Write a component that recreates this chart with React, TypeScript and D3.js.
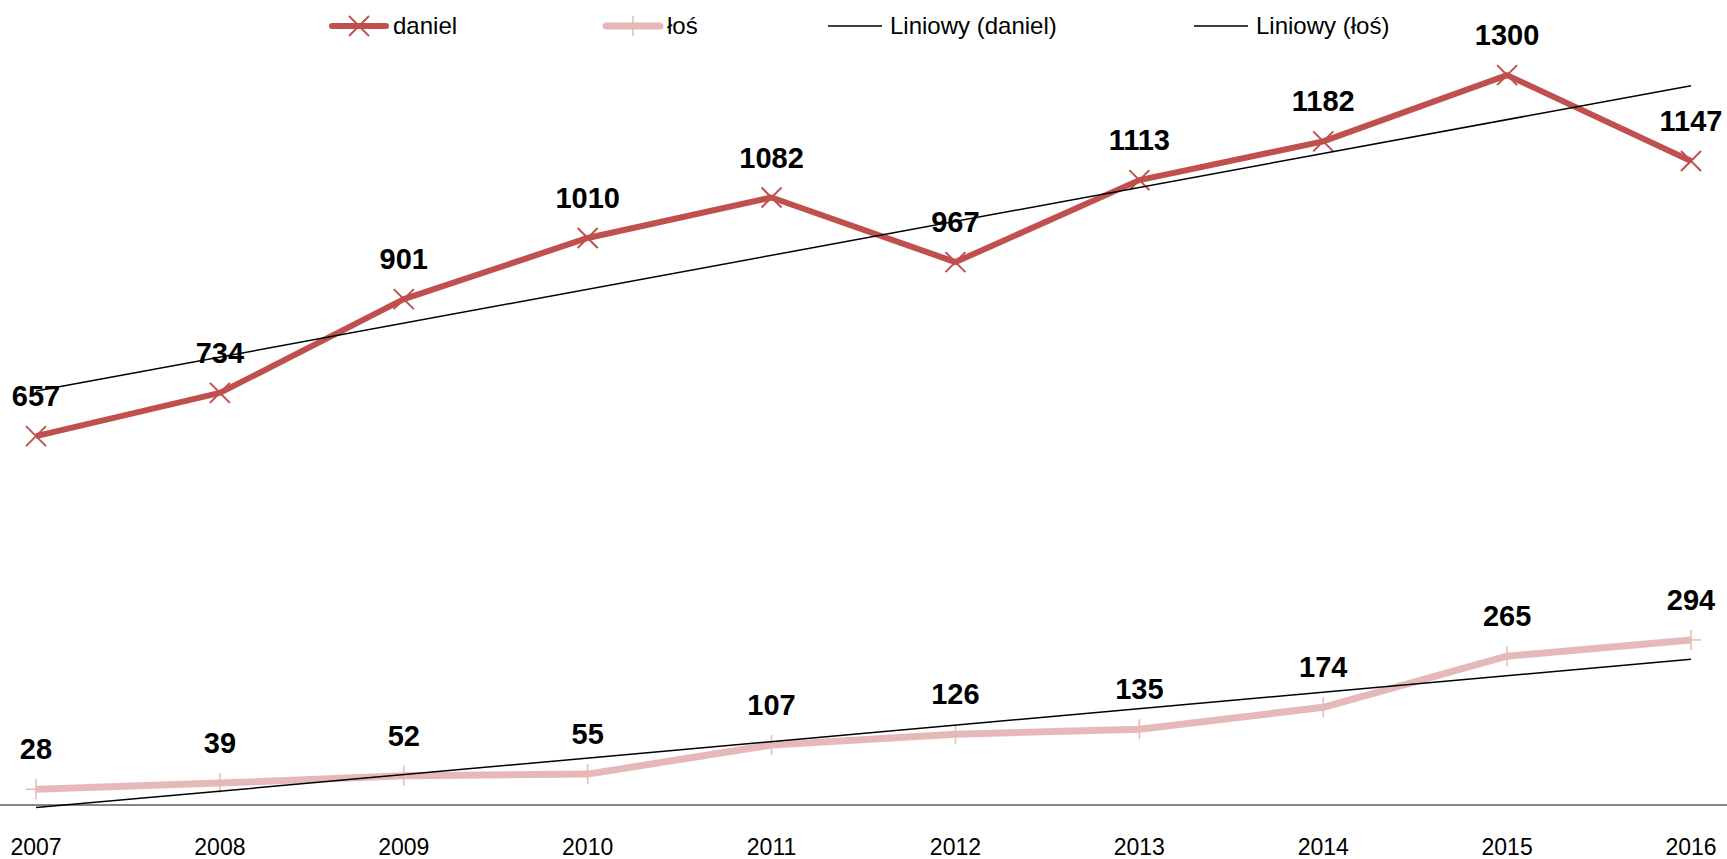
import React from "react";
import * as d3 from "d3";

const years = ["2007", "2008", "2009", "2010", "2011", "2012", "2013", "2014", "2015", "2016"];
const daniel = [657, 734, 901, 1010, 1082, 967, 1113, 1182, 1300, 1147];
const los = [28, 39, 52, 55, 107, 126, 135, 174, 265, 294];
const legendLabels = ["daniel", "łoś", "Liniowy (daniel)", "Liniowy (łoś)"];

const W = 1727;
const H = 859;
const DANIEL_COLOR = "#C0504D";
const LOS_COLOR = "#E6B9B8";
const FONT = "'Liberation Sans', Arial, sans-serif";

function linReg(vals: number[]) {
  const xs = vals.map((_, i) => i + 1);
  const mx = d3.mean(xs) as number;
  const my = d3.mean(vals) as number;
  let sxy = 0, sxx = 0;
  xs.forEach((x, i) => { sxy += (x - mx) * (vals[i] - my); sxx += (x - mx) * (x - mx); });
  const b = sxy / sxx;
  const a = my - b * mx;
  return xs.map((x) => a + b * x);
}

export default function App() {
  const x = d3.scalePoint<string>().domain(years).range([36, 1691]);
  const y = d3.scaleLinear().domain([0, 1400]).range([805, 19]);

  const line = d3.line<number>().x((_, i) => x(years[i]) as number).y((v) => y(v));
  const trendD = linReg(daniel);
  const trendL = linReg(los);
  const ends = (t: number[]) => [t[0], t[t.length - 1]];
  const trendLine = (t: number[]) =>
    d3.line<number>().x((_, i) => x(years[i === 0 ? 0 : years.length - 1]) as number).y((v) => y(v))(ends(t)) as string;

  const legendX = [332, 606, 828, 1194];
  const legendY = 26;

  return (
    <svg width={W} height={H} style={{ position: "absolute", left: 0, top: 0, background: "#fff" }} fontFamily={FONT}>
      <line x1={0} x2={W} y1={y(0)} y2={y(0)} stroke="#868686" strokeWidth={2} />
      {years.map((yr) => (
        <text key={yr} x={x(yr)} y={855} textAnchor="middle" fontSize={23} fill="#000">{yr}</text>
      ))}
      <path d={line(los) as string} fill="none" stroke={LOS_COLOR} strokeWidth={7} strokeLinejoin="round" />
      <path d={line(daniel) as string} fill="none" stroke={DANIEL_COLOR} strokeWidth={6} strokeLinejoin="round" />
      {los.map((v, i) => {
        const cx = x(years[i]) as number, cy = y(v);
        return (
          <g key={"lm" + i} stroke={LOS_COLOR} strokeWidth={1.5}>
            <line x1={cx - 10} x2={cx + 10} y1={cy} y2={cy} />
            <line x1={cx} x2={cx} y1={cy - 10} y2={cy + 10} />
          </g>
        );
      })}
      {daniel.map((v, i) => {
        const cx = x(years[i]) as number, cy = y(v);
        return (
          <g key={"dm" + i} stroke={DANIEL_COLOR} strokeWidth={2}>
            <line x1={cx - 10} x2={cx + 10} y1={cy - 10} y2={cy + 10} />
            <line x1={cx - 10} x2={cx + 10} y1={cy + 10} y2={cy - 10} />
          </g>
        );
      })}
      <path d={trendLine(trendD)} stroke="#000" strokeWidth={1.5} fill="none" />
      <path d={trendLine(trendL)} stroke="#000" strokeWidth={1.5} fill="none" />
      {daniel.map((v, i) => (
        <text key={"dl" + i} x={x(years[i])} y={y(v) - 30} textAnchor="middle" fontSize={29} fontWeight="bold" fill="#000">{v}</text>
      ))}
      {los.map((v, i) => (
        <text key={"ll" + i} x={x(years[i])} y={y(v) - 30} textAnchor="middle" fontSize={29} fontWeight="bold" fill="#000">{v}</text>
      ))}
      <g>
        <line x1={legendX[0]} x2={legendX[0] + 54} y1={legendY} y2={legendY} stroke={DANIEL_COLOR} strokeWidth={6} strokeLinecap="round" />
        <g stroke={DANIEL_COLOR} strokeWidth={2}>
          <line x1={legendX[0] + 17} x2={legendX[0] + 37} y1={legendY - 10} y2={legendY + 10} />
          <line x1={legendX[0] + 17} x2={legendX[0] + 37} y1={legendY + 10} y2={legendY - 10} />
        </g>
        <text x={legendX[0] + 61} y={legendY + 8} fontSize={24}>{legendLabels[0]}</text>

        <line x1={legendX[1]} x2={legendX[1] + 54} y1={legendY} y2={legendY} stroke={LOS_COLOR} strokeWidth={7} strokeLinecap="round" />
        <g stroke={LOS_COLOR} strokeWidth={1.5}>
          <line x1={legendX[1] + 27} x2={legendX[1] + 27} y1={legendY - 10} y2={legendY + 10} />
        </g>
        <text x={legendX[1] + 61} y={legendY + 8} fontSize={24}>{legendLabels[1]}</text>

        <line x1={legendX[2]} x2={legendX[2] + 54} y1={legendY} y2={legendY} stroke="#000" strokeWidth={1.5} />
        <text x={legendX[2] + 62} y={legendY + 8} fontSize={24}>{legendLabels[2]}</text>

        <line x1={legendX[3]} x2={legendX[3] + 54} y1={legendY} y2={legendY} stroke="#000" strokeWidth={1.5} />
        <text x={legendX[3] + 62} y={legendY + 8} fontSize={24}>{legendLabels[3]}</text>
      </g>
    </svg>
  );
}
